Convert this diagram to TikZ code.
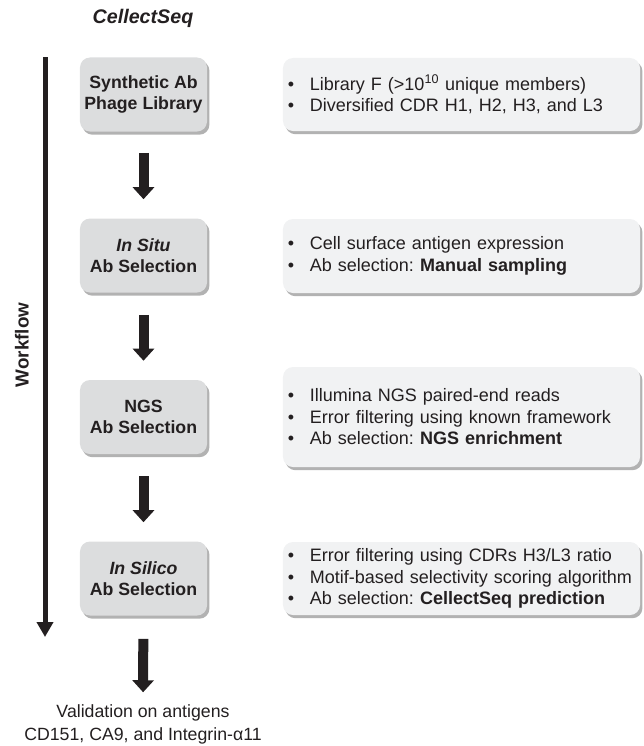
\documentclass[tikz,border=0pt]{standalone}
\usepackage{fontspec}
\setmainfont{Liberation Sans}
\usepackage{tikz}
\usetikzlibrary{arrows.meta,shadows}
\frenchspacing
\definecolor{stepgray}{RGB}{220,221,222}
\definecolor{notegray}{RGB}{241,242,243}
\definecolor{inkdark}{RGB}{35,31,32}
\newcommand\bitem[1]{\makebox[5.5mm][l]{\textbullet}#1}
\tikzset{
  stepbox/.style={fill=stepgray,rounded corners=2.5mm,minimum width=31.75mm,minimum height=18.5mm,
                  inner sep=1mm,align=center,text=inkdark,font=\fontsize{12.6}{15}\selectfont\bfseries,
                  drop shadow={shadow xshift=0.6mm,shadow yshift=-0.8mm,opacity=0.5,fill=black!60}},
  notebox/.style={fill=notegray,rounded corners=2.5mm,minimum width=89.25mm,text width=86.75mm,
                  inner xsep=1.25mm,align=left,text=inkdark,font=\fontsize{12.8}{15.3}\selectfont,
                  drop shadow={shadow xshift=0.6mm,shadow yshift=-0.8mm,opacity=0.5,fill=black!60}},
  blockarrow/.style={draw=inkdark,line width=2.5mm,-{Triangle[width=5.25mm,length=3mm]}},
  timeline/.style={draw=inkdark,line width=1.25mm,-{Triangle[width=4mm,length=3.75mm]}},
}

\begin{document}
\begin{tikzpicture}[x=0.25mm,y=-0.25mm]
  \path[use as bounding box] (0,0) rectangle (643,746);
  \node[text=inkdark,font=\fontsize{14}{17}\selectfont\bfseries\itshape] (title) at (143,18) {CellectSeq};

  % workflow axis
  \coordinate (wtop) at (45,57);
  \coordinate (wbot) at (45,637);
  \draw[timeline] (wtop) -- (wbot);
  \node[rotate=90,text=inkdark,font=\fontsize{13.4}{16}\selectfont\bfseries] (wflow) at (22,345) {Workflow};

  % steps
  \node[stepbox] (lib) at (143.5,94.5) {Synthetic Ab\\Phage Library};
  \node[stepbox] (situ) at (143.5,255.5) {\textit{In Situ}\\Ab Selection};
  \node[stepbox] (ngs) at (143.5,417) {NGS\\Ab Selection};
  \node[stepbox] (silico) at (143.5,578.5) {\textit{In Silico}\\Ab Selection};
  \node[text=inkdark,align=center,font=\fontsize{12.6}{16.4}\selectfont] (valid) at (143,724)
    {Validation on antigens\\CD151, CA9, and Integrin-α11};

  \draw[blockarrow,shorten <=5.25mm,shorten >=4.75mm] (lib) -- (situ);
  \draw[blockarrow,shorten <=5.5mm,shorten >=4.75mm] (situ) -- (ngs);
  \draw[blockarrow,shorten <=5.5mm,shorten >=4.75mm] (ngs) -- (silico);
  \draw[blockarrow,shorten <=5.75mm,shorten >=1.75mm] (silico) -- (valid);

  % details
  \node[notebox,minimum height=18.25mm] (libnote) at (461.5,94.5)
    {\bitem{Library F (>10\textsuperscript{10} unique members)}\\
     \bitem{Diversified CDR H1, H2, H3, and L3}};
  \node[notebox,minimum height=18.5mm] (situnote) at (461.5,256)
    {\bitem{Cell surface antigen expression}\\
     \bitem{Ab selection: \textbf{Manual sampling}}};
  \node[notebox,minimum height=25mm] (ngsnote) at (461.5,417)
    {\bitem{Illumina NGS paired-end reads}\\
     \bitem{Error filtering using known framework}\\
     \bitem{Ab selection: \textbf{NGS enrichment}}};
  \node[notebox,minimum height=18.25mm] (silnote) at (461.5,578.5)
    {\bitem{Error filtering using CDRs H3/L3 ratio}\\
     \bitem{Motif-based selectivity scoring algorithm}\\
     \bitem{Ab selection: \textbf{CellectSeq prediction}}};
\end{tikzpicture}
\end{document}
